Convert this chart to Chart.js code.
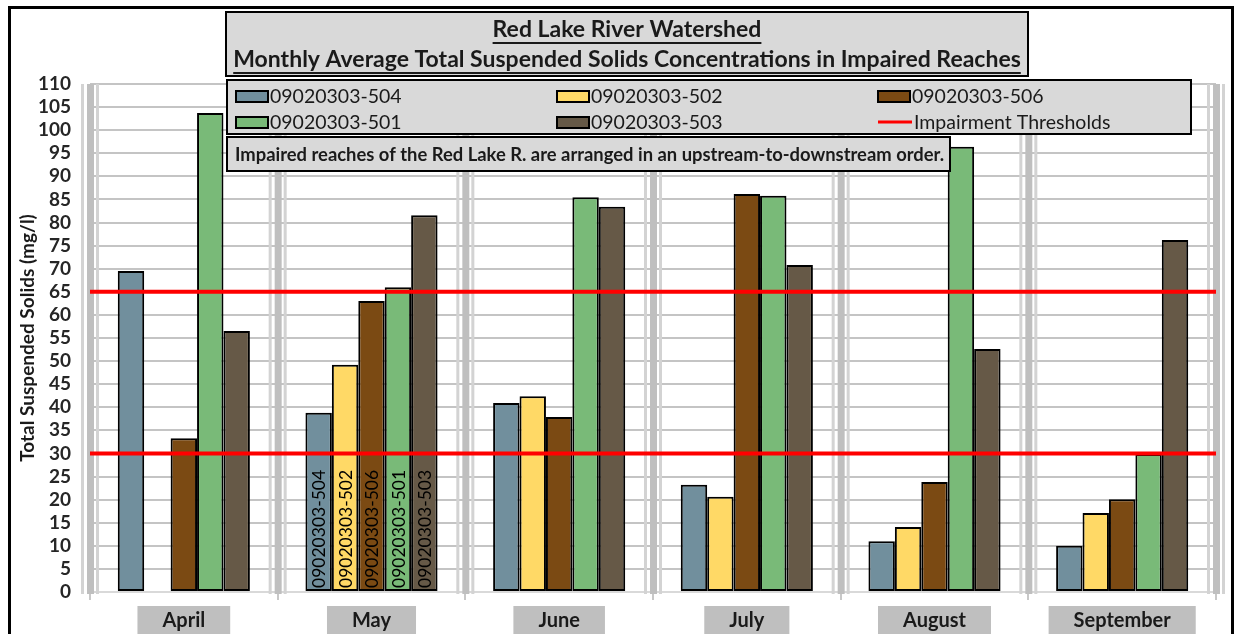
<!DOCTYPE html>
<html><head><meta charset="utf-8">
<script src="https://cdn.jsdelivr.net/npm/chart.js@4.4.1/dist/chart.umd.min.js"></script>
<style>html,body{margin:0;padding:0;background:#fff}#wrap{width:1236px;height:634px;position:relative}</style>
</head><body><div id="wrap"><canvas id="c" width="1236" height="634"></canvas></div>
<script>
const months = ['April','May','June','July','August','September'];
const seriesNames = ['09020303-504','09020303-502','09020303-506','09020303-501','09020303-503'];
const reach504 = [69.5, 38.8, 40.9, 23.2, 11.0, 10.0];
const reach502 = [null, 49.2, 42.4, 20.6, 14.1, 17.1];
const reach506 = [33.3, 63.0, 37.9, 86.2, 23.8, 20.1];
const reach501 = [103.7, 66.0, 85.5, 85.8, 96.4, 29.9];
const reach503 = [56.5, 81.6, 83.4, 70.8, 52.6, 76.2];
const thresholds = [30, 65];
const thresholdName = 'Impairment Thresholds';
const titleLines = ['Red Lake River Watershed','Monthly Average Total Suspended Solids Concentrations in Impaired Reaches'];
const noteText = 'Impaired reaches of the Red Lake R. are arranged in an upstream-to-downstream order.';
const yTitle = 'Total Suspended Solids (mg/l)';
const labelledMonth = 'May';

const colors = ['#718f9d','#ffd966','#7b4a13','#79ba78','#665947'];
const seriesValues = [reach504, reach502, reach506, reach501, reach503];
const FONT = 'Lato, "Open Sans", sans-serif';

const datasets = seriesNames.map((n, i) => ({
  label: n, data: seriesValues[i],
  backgroundColor: colors[i], borderColor: '#000', borderWidth: 2, borderSkipped: false,
  categoryPercentage: 0.704, barPercentage: 1.0
}));

function underlineText(ctx, text, cx, cy, off) {
  ctx.textAlign = 'center'; ctx.textBaseline = 'middle';
  ctx.fillText(text, cx, cy);
  const w = ctx.measureText(text).width;
  ctx.fillRect(cx - w / 2, cy + off, w, 2);
}

const overlay = {
  id: 'overlay',
  beforeDatasetsDraw(chart) {
    const {ctx, chartArea: a} = chart;
    const xs = chart.scales.x;
    ctx.save();
    for (let i = 0; i <= months.length; i++) {
      const xb = xs.getPixelForValue(i - 0.5);
      ctx.fillStyle = '#d3d3d3';
      ctx.fillRect(xb - 9, a.top, 3, a.bottom - a.top + 2);
      ctx.fillRect(xb + 6, a.top, 3, a.bottom - a.top + 2);
      ctx.fillStyle = '#bfbfbf';
      ctx.fillRect(xb - 3, a.top, 7, a.bottom - a.top + 2);
    }
    ctx.restore();
  },
  afterDatasetsDraw(chart) {
    const {ctx, chartArea: a} = chart;
    const ys = chart.scales.y;
    const mi = months.indexOf(labelledMonth);
    ctx.save();
    ctx.font = '17.5px ' + FONT;
    ctx.fillStyle = '#000';
    chart.data.datasets.forEach((ds, di) => {
      const el = chart.getDatasetMeta(di).data[mi];
      if (!el) return;
      ctx.save();
      ctx.translate(el.x, a.bottom - 4);
      ctx.rotate(-Math.PI / 2);
      ctx.textAlign = 'left'; ctx.textBaseline = 'middle';
      ctx.fillText(ds.label, 0, 1);
      ctx.restore();
    });
    // impairment threshold lines through the y scale
    ctx.strokeStyle = '#ff0000'; ctx.lineWidth = 4;
    thresholds.forEach(t => {
      const y = ys.getPixelForValue(t);
      ctx.beginPath(); ctx.moveTo(a.left, y); ctx.lineTo(a.right, y); ctx.stroke();
    });
    ctx.restore();
  },
  afterDraw(chart) {
    const {ctx} = chart;
    const xs = chart.scales.x;
    ctx.save();
    // month label boxes
    ctx.font = 'bold 20px ' + FONT;
    months.forEach((m, i) => {
      const cx = xs.getPixelForValue(i);
      const w = ctx.measureText(m).width + 50;
      ctx.fillStyle = '#bfbfbf';
      ctx.fillRect(cx - w / 2, 606, w, 30);
      ctx.fillStyle = '#1a1a1a';
      ctx.textAlign = 'center'; ctx.textBaseline = 'middle';
      ctx.fillText(m, cx, 621);
    });
    // title box
    ctx.fillStyle = '#d9d9d9'; ctx.strokeStyle = '#000'; ctx.lineWidth = 2;
    ctx.fillRect(226, 12, 802, 64); ctx.strokeRect(226, 12, 802, 64);
    ctx.fillStyle = '#1a1a1a';
    ctx.font = 'bold 23px ' + FONT;
    underlineText(ctx, titleLines[0], 627, 30, 12);
    underlineText(ctx, titleLines[1], 627, 60, 12);
    // legend box
    ctx.fillStyle = '#d9d9d9';
    ctx.fillRect(227, 80, 964, 54); ctx.strokeRect(227, 80, 964, 54);
    const colX = [236, 557, 878];
    const rowY = [96, 122];
    ctx.font = '19.5px ' + FONT;
    ctx.textAlign = 'left'; ctx.textBaseline = 'middle';
    seriesNames.forEach((n, p) => {
      const c = p % 3, r = Math.floor(p / 3);
      ctx.fillStyle = colors[p];
      ctx.fillRect(colX[c], rowY[r] - 5, 32, 11);
      ctx.lineWidth = 2; ctx.strokeStyle = '#000';
      ctx.strokeRect(colX[c], rowY[r] - 5, 32, 11);
      ctx.fillStyle = '#1a1a1a';
      ctx.fillText(n, colX[c] + 34, rowY[r] + 1);
    });
    ctx.strokeStyle = '#ff0000'; ctx.lineWidth = 3;
    ctx.beginPath(); ctx.moveTo(colX[2], rowY[1]); ctx.lineTo(colX[2] + 34, rowY[1]); ctx.stroke();
    ctx.fillStyle = '#1a1a1a';
    ctx.fillText(thresholdName, colX[2] + 36, rowY[1] + 1);
    // note box
    ctx.fillStyle = '#d9d9d9'; ctx.strokeStyle = '#000'; ctx.lineWidth = 2;
    ctx.fillRect(227, 137, 723, 34); ctx.strokeRect(227, 137, 723, 34);
    ctx.fillStyle = '#1a1a1a';
    ctx.font = 'bold 18.4px ' + FONT;
    ctx.fillText(noteText, 235, 155);
    // frame
    ctx.strokeStyle = '#000'; ctx.lineWidth = 3;
    ctx.strokeRect(9.5, 7.5, 1223, 640);
    ctx.restore();
  }
};

new Chart(document.getElementById('c'), {
  type: 'bar',
  data: {labels: months, datasets},
  options: {
    responsive: false, animation: false,
    layout: {padding: {top: 84, right: 20, bottom: 0, left: 0}},
    plugins: {legend: {display: false}, tooltip: {enabled: false}, title: {display: false}},
    scales: {
      x: {
        type: 'category', offset: true,
        grid: {display: true, drawOnChartArea: false, drawTicks: true, tickLength: 8, offset: true, color: '#c8c8c8', lineWidth: 2},
        border: {display: true, color: '#d9d9d9', width: 2},
        ticks: {display: false},
        afterFit(s) { s.height = 42; }
      },
      y: {
        min: 0, max: 110,
        ticks: {stepSize: 5, autoSkip: false, color: '#262626', font: {family: FONT, size: 19, weight: 'bold'}, padding: 19},
        grid: {color: '#c4c4c4', lineWidth: 2, drawTicks: false},
        border: {display: false},
        title: {display: true, text: yTitle, color: '#1a1a1a', font: {family: FONT, size: 19, weight: 'bold'}, padding: {top: 16, bottom: 0}},
        afterFit(s) { s.width = 90; }
      }
    }
  },
  plugins: [overlay]
});
</script></body></html>
